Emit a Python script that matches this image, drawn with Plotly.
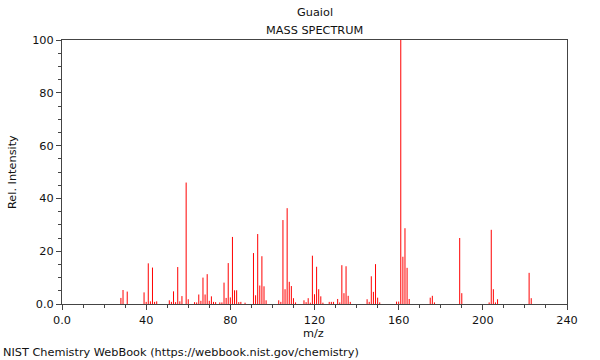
import plotly.graph_objects as go

title_name = "Guaiol"
subtitle = "MASS SPECTRUM"

mz = [28, 29, 31, 39, 40, 41, 42, 43, 44, 45,
      51, 52, 53, 54, 55, 56, 57, 59, 60, 63, 64,
      65, 66, 67, 68, 69, 70, 71, 72, 73, 75, 76,
      77, 78, 79, 80, 81, 82, 83, 84, 85, 87,
      91, 92, 93, 94, 95, 96, 97,
      103, 104, 105, 106, 107, 108, 109, 110, 111,
      115, 116, 117, 118, 119, 120, 121, 122, 123, 124,
      127, 128, 129, 131, 132, 133, 134, 135, 136, 137,
      145, 146, 147, 148, 149, 150, 151,
      159, 160, 161, 162, 163, 164, 165,
      175, 176, 177, 189, 190,
      203, 204, 205, 206, 207, 222, 223]
intensity = [2.3, 5.3, 4.7, 4.4, 0.8, 15.4, 1.0, 13.8, 0.8, 1.0,
             1.4, 0.8, 4.8, 0.7, 14.0, 1.0, 3.0, 46.0, 1.8, 0.7, 0.6,
             3.6, 1.2, 10.0, 3.6, 11.3, 1.2, 2.9, 0.8, 0.7, 0.6, 0.6,
             8.1, 2.3, 15.5, 2.5, 25.4, 5.2, 5.2, 0.7, 0.8, 0.5,
             19.3, 3.3, 26.5, 7.0, 18.1, 6.7, 1.4,
             1.4, 0.8, 31.8, 5.6, 36.3, 8.4, 6.8, 2.2, 0.6,
             1.4, 0.7, 2.2, 0.5, 18.3, 3.7, 14.1, 5.6, 2.9, 0.5,
             0.8, 0.8, 0.8, 1.9, 0.6, 14.7, 4.1, 14.3, 3.1, 0.8,
             1.8, 0.8, 10.5, 4.6, 15.1, 2.4, 0.6,
             0.9, 0.9, 100.0, 17.9, 28.7, 13.7, 1.9,
             2.4, 3.1, 0.6, 25.0, 4.1,
             0.6, 28.1, 5.6, 0.6, 1.8, 11.8, 2.2]

x_ticks = [0, 40, 80, 120, 160, 200, 240]
x_ticktext = ["0.0", "40", "80", "120", "160", "200", "240"]
y_ticks = [0, 20, 40, 60, 80, 100]
y_ticktext = ["0.0", "20", "40", "60", "80", "100"]

xs, ys = [], []
for m, v in zip(mz, intensity):
    xs += [m, m, None]
    ys += [0, v, None]

fig = go.Figure()
fig.add_trace(go.Scatter(x=xs, y=ys, mode="lines",
                         line=dict(color="#ff0000", width=1),
                         hoverinfo="skip", showlegend=False))

font = dict(family="DejaVu Sans", size=11.3, color="#111")
axcol = "#444"
fig.update_layout(
    width=600, height=360,
    margin=dict(l=62, r=33, t=40, b=56),
    paper_bgcolor="white", plot_bgcolor="white",
    font=font,
    showlegend=False,
    hovermode=False,
)
fig.update_xaxes(range=[0, 240], showgrid=False, zeroline=False,
                 showline=True, linecolor=axcol, linewidth=1, mirror=True,
                 tickmode="array", tickvals=x_ticks, ticktext=x_ticktext,
                 ticks="outside", ticklen=5, tickcolor=axcol,
                 minor=dict(dtick=10, tick0=0, ticks="outside", ticklen=3, tickcolor=axcol, showgrid=False),
                 tickfont=dict(family="DejaVu Sans", size=11.3, color="#111"))
fig.update_yaxes(range=[0, 100], showgrid=False, zeroline=False,
                 showline=True, linecolor=axcol, linewidth=1, mirror=True,
                 tickmode="array", tickvals=y_ticks, ticktext=y_ticktext,
                 ticks="outside", ticklen=5, tickcolor=axcol,
                 minor=dict(dtick=5, tick0=0, ticks="outside", ticklen=3, tickcolor=axcol, showgrid=False),
                 tickfont=dict(family="DejaVu Sans", size=11.3, color="#111"))

ann = [
    dict(text=title_name, x=0.5, y=1.106, xanchor="center", yanchor="middle"),
    dict(text=subtitle, x=0.5, y=1.036, xanchor="center", yanchor="middle"),
    dict(text="Rel. Intensity", x=-0.099, y=0.5, xanchor="center", yanchor="middle", textangle=-90),
    dict(text="m/z", x=0.499, y=-0.1136, xanchor="center", yanchor="middle"),
    dict(text="NIST Chemistry WebBook (https://webbook.nist.gov/chemistry)", x=-0.1208, y=-0.1856,
         xanchor="left", yanchor="middle"),
]
for a in ann:
    fig.add_annotation(xref="paper", yref="paper", showarrow=False, font=font, **a)

fig.write_html("out.html", config={"displayModeBar": False},
               post_script="document.body.style.margin='0px';document.body.style.overflow='hidden';")
